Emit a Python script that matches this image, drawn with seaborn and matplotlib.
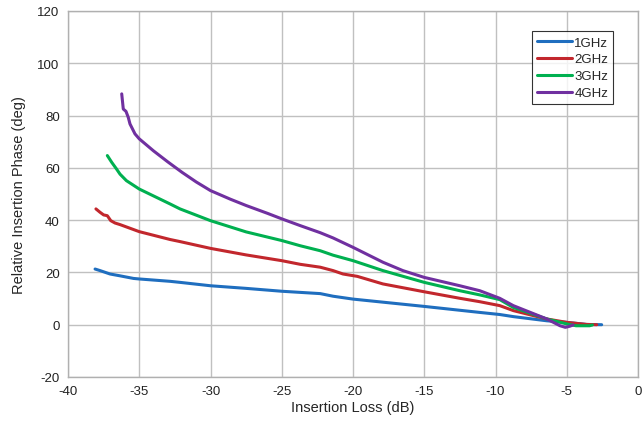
import pandas as pd
import numpy as np
import matplotlib
matplotlib.use("Agg")
import matplotlib.pyplot as plt
import seaborn as sns

# Insertion loss (dB) vs relative insertion phase (deg)
loss_1g = [-38.1, -37.75, -37.05, -36.35, -35.4, -35.0, -32.84, -32.14, -30.0, -27.5, -25.0,
           -22.3, -21.4, -20.0, -15.0, -11.1, -9.7, -8.75, -6.4, -5.0, -3.6, -2.55]
phase_1g = [21.3, 20.7, 19.4, 18.7, 17.7, 17.5, 16.6, 16.2, 14.9, 13.9, 12.8,
            11.9, 10.9, 9.8, 7.0, 4.7, 3.9, 3.1, 1.5, 0.9, 0.1, 0.0]

loss_2g = [-38.04, -37.75, -37.5, -37.24, -37.0, -36.7, -36.35, -35.0, -32.84, -32.14, -30.0,
           -27.5, -25.0, -23.7, -22.3, -21.4, -20.7, -19.7, -17.9, -15.0, -12.5, -11.1,
           -9.7, -8.75, -6.4, -5.0, -3.6, -2.9]
phase_2g = [44.3, 43.0, 42.0, 41.7, 39.8, 38.9, 38.3, 35.6, 32.6, 31.8, 29.2,
            26.7, 24.5, 23.1, 22.0, 20.7, 19.4, 18.5, 15.6, 12.6, 10.1, 8.8,
            7.3, 5.4, 2.2, 0.9, 0.1, 0.0]

loss_3g = [-37.24, -36.93, -36.6, -36.35, -35.9, -35.0, -32.84, -32.14, -30.0, -27.5, -25.0,
           -23.7, -22.3, -21.4, -20.0, -17.9, -15.0, -12.5, -11.1, -9.7, -8.75, -6.4,
           -5.0, -4.35, -3.4, -3.2]
phase_3g = [64.7, 62.1, 59.6, 57.6, 55.1, 51.9, 46.2, 44.3, 39.8, 35.5, 32.2,
            30.2, 28.3, 26.6, 24.5, 20.7, 16.2, 13.0, 11.4, 9.6, 6.6, 2.2,
            0.3, -0.4, -0.4, -0.1]

loss_4g = [-36.23, -36.12, -35.93, -35.77, -35.65, -35.3, -35.0, -34.0, -33.0, -32.0, -31.0,
           -30.0, -28.6, -27.5, -26.0, -25.0, -23.7, -22.3, -21.4, -20.0, -17.9, -16.5,
           -15.0, -12.5, -11.1, -9.7, -8.75, -6.4, -5.47, -5.1, -4.8, -4.55]
phase_4g = [88.3, 82.5, 81.6, 79.3, 76.8, 73.0, 71.1, 66.5, 62.3, 58.3, 54.6,
            51.3, 48.0, 45.6, 42.6, 40.5, 37.9, 35.2, 33.2, 29.6, 23.9, 20.7,
            18.1, 14.9, 13.0, 10.1, 7.3, 2.2, -0.4, -1.0, -0.6, -0.1]

series = ["1GHz", "2GHz", "3GHz", "4GHz"]
colors = ["#1f6ebf", "#c2272d", "#00b050", "#7030a0"]

frames = []
for name, xs, ys in zip(series, [loss_1g, loss_2g, loss_3g, loss_4g],
                        [phase_1g, phase_2g, phase_3g, phase_4g]):
    frames.append(pd.DataFrame({"loss": xs, "phase": ys, "freq": name}))
df = pd.concat(frames, ignore_index=True)

sns.set_style("white")
plt.rcParams["font.family"] = ["Liberation Sans", "DejaVu Sans"]
plt.rcParams["axes.unicode_minus"] = False

fig = plt.figure(figsize=(6.44, 4.27), dpi=100)
ax = fig.add_axes([68 / 644, 49 / 427, 570 / 644, 366 / 427])

sns.lineplot(data=df, x="loss", y="phase", hue="freq", palette=colors,
             sort=False, estimator=None, linewidth=2.2, ax=ax)

ax.set_xlim(-40, 0)
ax.set_ylim(-20, 120)
ax.set_xticks(np.arange(-40, 1, 5))
ax.set_yticks(np.arange(-20, 121, 20))
ax.grid(True, color="#c0c0c0", linewidth=1.0)
ax.set_axisbelow(True)
for sp in ax.spines.values():
    sp.set_color("#b0b0b0")
    sp.set_linewidth(1.0)
ax.tick_params(length=0, labelsize=9.5, colors="#222222", pad=6)
ax.set_xlabel("Insertion Loss (dB)", fontsize=10.5, labelpad=2)
ax.set_ylabel("Relative Insertion Phase (deg)", fontsize=10.5, labelpad=8)

leg = ax.legend(loc="upper right", bbox_to_anchor=(0.957, 0.945), fontsize=9.5,
                frameon=True, fancybox=False, handlelength=2.6, handletextpad=0.2,
                labelspacing=0.35, borderpad=0.4, borderaxespad=0)
leg.get_frame().set_edgecolor("black")
leg.get_frame().set_linewidth(0.8)
leg.set_title(None)

fig.savefig("out.png", dpi=100)
